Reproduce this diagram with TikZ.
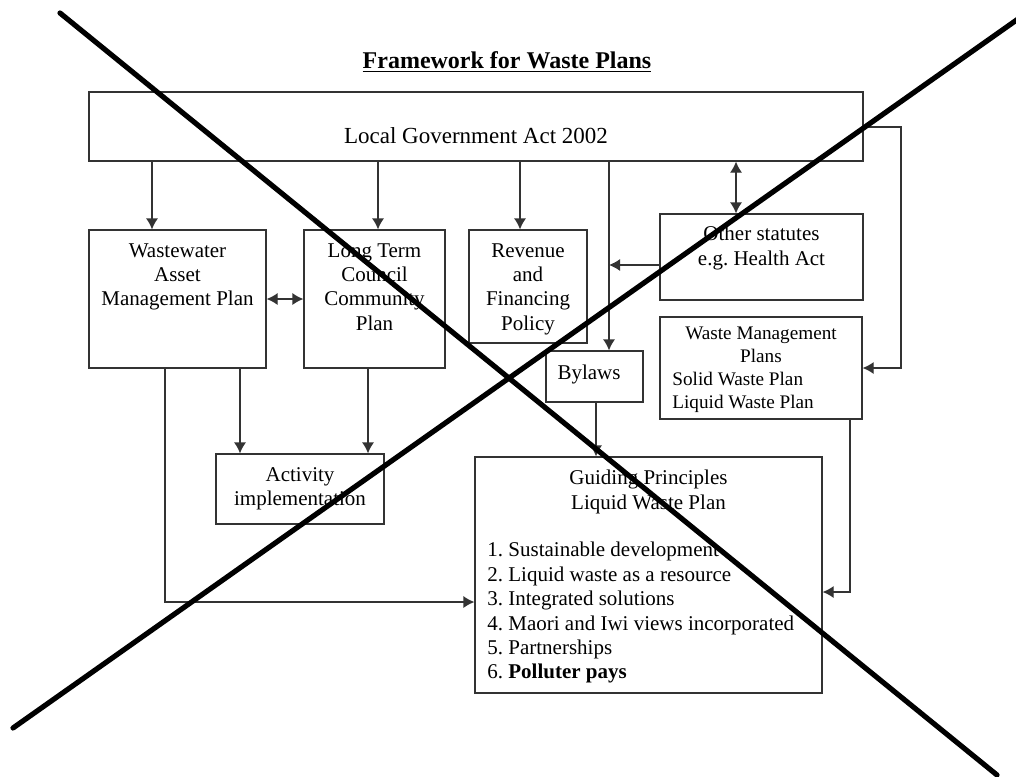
\documentclass[tikz,border=0pt]{standalone}
\usepackage{fontspec}
\setmainfont{Liberation Serif}
\usetikzlibrary{arrows.meta}

\begin{document}
\begin{tikzpicture}[x=0.5pt, y=-0.5pt, >={Latex[length=5.5pt,width=6pt]},
    box/.style={draw=black!80, line width=0.6pt, rectangle, inner sep=0pt},
    txt/.style={anchor=north, align=center, inner sep=0pt, font=\fontsize{10.5}{12.2}\selectfont\frenchspacing},
    conn/.style={draw=black!80, line width=0.6pt}]
    \useasboundingbox (0,0) rectangle (1016,776);

    % Title
    \node [font=\fontsize{12}{14}\bfseries\selectfont] (title) at (507,62) {\underline{Framework for Waste Plans}};

    % Boxes
    \node [box, minimum width=387pt,  minimum height=34.5pt] (lga)      at (476,126.5) {};
    \node [box, minimum width=88.5pt, minimum height=69pt]   (wamp)     at (177.5,299) {};
    \node [box, minimum width=70.5pt, minimum height=69pt]   (ltccp)    at (374.5,299) {};
    \node [box, minimum width=59pt,   minimum height=56.5pt] (rfp)      at (528,286.5) {};
    \node [box, minimum width=101.5pt,minimum height=43pt]   (other)    at (761.5,257) {};
    \node [box, minimum width=101pt,  minimum height=51pt]   (wmp)      at (761,368)   {};
    \node [box, minimum width=48.5pt, minimum height=25.5pt] (bylaws)   at (594.5,376.5) {};
    \node [box, minimum width=84pt,   minimum height=35pt]   (activity) at (300,489)   {};
    \node [box, minimum width=173.5pt,minimum height=118pt]  (guiding)  at (648.5,575) {};

    % Texts
    \node [txt, font=\fontsize{11.5}{12.2}\selectfont] (lga-txt) at (476,127) {Local Government Act 2002};
    \node [txt] (wamp-txt)     at (177.5,243) {Wastewater\\Asset\\Management Plan};
    \node [txt] (ltccp-txt)    at (374.5,243) {Long Term\\Council\\Community\\Plan};
    \node [txt] (rfp-txt)      at (528,243)   {Revenue\\and\\Financing\\Policy};
    \node [txt] (other-txt)    at (761.5,226) {Other statutes\\e.g. Health Act};
    \node [txt, font=\fontsize{9.6}{11.2}\selectfont] (wmp-head) at (761,327) {Waste Management\\Plans};
    \node [txt, font=\fontsize{9.6}{11.2}\selectfont, anchor=north west, align=left] (wmp-list) at (672,372) {Solid Waste Plan\\Liquid Waste Plan};
    \node [txt] (bylaws-txt)   at (589,365)   {Bylaws};
    \node [txt] (activity-txt) at (300,467)   {Activity\\implementation};
    \node [txt] (guiding-head) at (648.5,470) {Guiding Principles\\Liquid Waste Plan};
    \node [txt, anchor=north west, align=left] (guiding-list) at (487,542)
        {1. Sustainable development\\2. Liquid waste as a resource\\3. Integrated solutions\\4. Maori and Iwi views incorporated\\5. Partnerships\\6. \textbf{Polluter pays}};

    % Connectors
    \draw [conn, ->]  (152,0 |- lga.south)   -- (152,0 |- wamp.north);
    \draw [conn, ->]  (378,0 |- lga.south)   -- (378,0 |- ltccp.north);
    \draw [conn, ->]  (520,0 |- lga.south)   -- (520,0 |- rfp.north);
    \draw [conn, ->]  (609,0 |- lga.south)   -- (609,0 |- bylaws.north);
    \draw [conn, <->] (736,0 |- lga.south)   -- (736,0 |- other.north);
    \draw [conn, ->]  (lga.east |- 0,127)    -- (901,127) |- (wmp.east);
    \draw [conn, ->]  (other.west |- 0,265)  -- (609,265);
    \draw [conn, <->] (wamp.east)            -- (ltccp.west);
    \draw [conn, ->]  (240,0 |- wamp.south)  -- (240,0 |- activity.north);
    \draw [conn, ->]  (368,0 |- ltccp.south) -- (368,0 |- activity.north);
    \draw [conn, ->]  (596,0 |- bylaws.south) -- (596,0 |- guiding.north);
    \draw [conn, ->]  (165,0 |- wamp.south)  |- (guiding.west |- 0,602);
    \draw [conn, ->]  (850,0 |- wmp.south)   |- (guiding.east |- 0,592);

    % Cross
    \draw [line width=2.6pt, line cap=round] (60,13) -- (997,775);
    \draw [line width=2.6pt, line cap=round] (13,728) -- (1018,19);
\end{tikzpicture}
\end{document}
